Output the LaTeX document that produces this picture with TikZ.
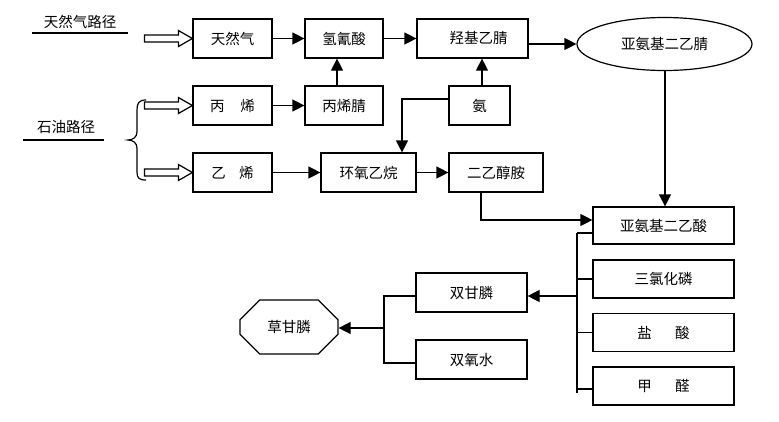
\documentclass[tikz,border=0pt]{standalone}
\usepackage{fontspec}
\newfontfamily\cjk{Noto Sans CJK SC}
\usetikzlibrary{arrows.meta,shapes.geometric,shapes.misc,calc}
\newcommand\hollowarr[1]{%
  \draw[hollow,shift={(#1.west)}] (-48,-3.5) -- (-14,-3.5) -- (-14,-8) -- (0,0)
    -- (-14,8) -- (-14,3.5) -- (-48,3.5) -- cycle;}
\begin{document}
\begin{tikzpicture}[x=1pt,y=-1pt,
  every node/.style={font=\cjk\fontsize{14.5}{17}\selectfont},
  box/.style={draw,line width=1.2pt,minimum height=39pt,inner sep=0pt},
  arr/.style={line width=1.2pt,-{Triangle[length=12pt,width=12pt]}},
  ln/.style={line width=1.2pt},
  hollow/.style={draw,line width=1.2pt,fill=white},
]
\useasboundingbox (0,0) rectangle (779,421);

% route labels
\node (tl1) at (80,22) {天然气路径};
\draw[ln] (32,33) -- (128,33);
\node (tl2) at (66,127) {石油路径};
\draw[ln] (23,140) -- (104,140);

% brace
\draw[ln] (146,100) .. controls (139,100) and (137,103) .. (137,110) -- (137,132)
  .. controls (137,137) and (133,140) .. (128,140)
  .. controls (133,140) and (137,143) .. (137,148) -- (137,172)
  .. controls (137,178) and (139,180) .. (146,180);

% row 1
\node[box,minimum width=79pt] (ng) at (232.5,38.5) {天然气};
\node[box,minimum width=78pt] (hcn) at (344,38.5) {氢氰酸};
\node[box,minimum width=111pt] (hyd) at (472.5,38.5) {\hspace{12pt}羟基乙腈};
\node[draw,ellipse,line width=1.2pt,minimum width=175pt,minimum height=53pt,inner sep=0pt] (nit) at (664.5,44) {亚氨基二乙腈};

% row 2
\node[box,minimum width=79pt] (pro) at (232.5,105.5) {丙\hspace{1.1em}烯};
\node[box,minimum width=78pt] (acn) at (344,105.5) {丙烯腈};
\node[box,minimum width=61pt] (nh3) at (479.5,105.5) {氨};

% row 3
\node[box,minimum width=79pt] (eth) at (232.5,172.5) {乙\hspace{0.9em}烯};
\node[box,minimum width=95pt] (eo) at (368.5,172.5) {环氧乙烷};
\node[box,minimum width=94pt] (dea) at (496,172.5) {二乙醇胺};

% right column
\node[box,minimum width=141pt,minimum height=37pt] (ida) at (663.5,225.5) {亚氨基二乙酸};
\node[box,minimum width=141pt,minimum height=38pt] (pcl) at (663.5,279) {三氯化磷};
\node[box,minimum width=141pt,minimum height=38pt] (hcl) at (663.5,332.5) {盐\hspace{1.6em}酸};
\node[box,minimum width=141pt,minimum height=38pt] (hcho) at (663.5,386) {甲\hspace{1.6em}醛};

% left bottom
\node[box,minimum width=111pt] (gly) at (471.5,292.5) {双甘膦};
\node[box,minimum width=111pt] (hp) at (471.5,359.5) {双氧水};
\node[draw,chamfered rectangle,chamfered rectangle xsep=16pt,chamfered rectangle ysep=13pt,
  minimum width=98pt,minimum height=54pt,inner sep=0pt,line width=1.2pt] (ggp) at (289,327) {草甘膦};

% hollow arrows
\hollowarr{ng}
\hollowarr{pro}
\hollowarr{eth}

% connectors
\draw[arr] (ng) -- (hcn);
\draw[arr] (hcn) -- (hyd);
\draw[arr] (hyd.east |- nit.west) -- (nit.west);
\draw[arr] (pro) -- (acn);
\draw[arr] ($(acn.north)+(-7,0)$) -- ($(hcn.south)+(-7,0)$);
\draw[arr] ($(nh3.north)+(2.5,0)$) -- ($(nh3.north |- hyd.south)+(2.5,0)$);
\draw[arr] ($(nh3.west)+(0,-6.5)$) -| ($(eo.north)+(33.5,0)$);
\draw[arr] (eth) -- (eo);
\draw[arr] (eo) -- (dea);
\draw[arr] ($(dea.south)+(-15,0)$) |- ($(ida.west)+(0,-5.5)$);
\draw[arr] ($(nit.south)+(0.5,0)$) -- ($(ida.north)+(1.5,0)$);

% bus on the right
\coordinate (bt) at (577,233);
\coordinate (bb) at (577,393);
\coordinate (bm) at (577,296);
\draw[ln] (bt) -- (bb);
\draw[ln] ($(ida.west)+(0,7.5)$) -- (bt);
\draw[ln] (pcl.west) -- (pcl.west -| bt);
\draw[ln] (hcl.west) -- (hcl.west -| bt);
\draw[ln] ($(hcho.west)+(0,3)$) -- ($(hcho.west -| bt)+(0,3)$);
\draw[arr] (bm) -- (bm -| gly.east);

% bracket on the left
\coordinate (gt) at (384,296);
\coordinate (gb) at (384,363);
\coordinate (gm) at (384,328);
\draw[ln] (gly.west |- gt) -- (gt) -- (gb) -- (hp.west |- gb);
\draw[arr] (gm) -- (gm -| ggp.east);
\end{tikzpicture}
\end{document}
